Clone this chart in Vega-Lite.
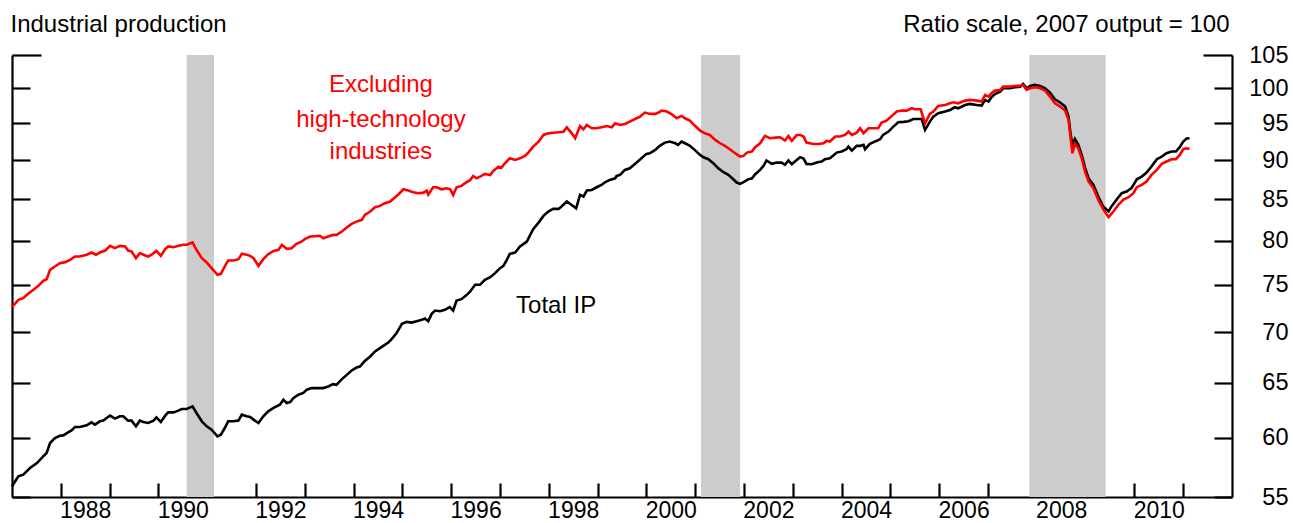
{
  "$schema": "https://vega.github.io/schema/vega-lite/v6.json",
  "width": 1220,
  "height": 442,
  "autosize": {"type": "none"},
  "padding": {"left": 12, "top": 55, "right": 61, "bottom": 26},
  "background": "white",
  "config": {
    "view": {"stroke": null},
    "font": "Liberation Sans",
    "axis": {
      "domainColor": "black", "tickColor": "black", "labelColor": "black", "titleColor": "black",
      "domainWidth": 2.2, "tickWidth": 2.2, "grid": false,
      "labelFont": "Liberation Sans", "titleFont": "Liberation Sans",
      "labelFontSize": 23.5, "titleFontSize": 24, "titleFontWeight": "normal"
    }
  },
  "datasets": {
    "recessions": [
      {"start": 1990.58, "end": 1991.14},
      {"start": 2001.12, "end": 2001.92},
      {"start": 2007.85, "end": 2009.41}
    ],
    "notes": [
      {"series": "Excluding high-technology industries", "label": "Excluding", "year": 1994.56, "value": 99.47},
      {"series": "Excluding high-technology industries", "label": "high-technology", "year": 1994.56, "value": 94.55},
      {"series": "Excluding high-technology industries", "label": "industries", "year": 1994.56, "value": 90.2},
      {"series": "Total IP", "label": "Total IP", "year": 1998.15, "value": 71.98}
    ],
    "ip": [
      {"series": "Total IP", "year": 1987.00, "value": 55.87},
      {"series": "Total IP", "year": 1987.13, "value": 56.69},
      {"series": "Total IP", "year": 1987.23, "value": 56.83},
      {"series": "Total IP", "year": 1987.37, "value": 57.38},
      {"series": "Total IP", "year": 1987.51, "value": 57.80},
      {"series": "Total IP", "year": 1987.64, "value": 58.37},
      {"series": "Total IP", "year": 1987.71, "value": 58.66},
      {"series": "Total IP", "year": 1987.78, "value": 59.52},
      {"series": "Total IP", "year": 1987.88, "value": 59.96},
      {"series": "Total IP", "year": 1987.98, "value": 60.16},
      {"series": "Total IP", "year": 1988.05, "value": 60.19},
      {"series": "Total IP", "year": 1988.15, "value": 60.46},
      {"series": "Total IP", "year": 1988.22, "value": 60.63},
      {"series": "Total IP", "year": 1988.29, "value": 60.93},
      {"series": "Total IP", "year": 1988.39, "value": 60.93},
      {"series": "Total IP", "year": 1988.53, "value": 61.08},
      {"series": "Total IP", "year": 1988.63, "value": 61.35},
      {"series": "Total IP", "year": 1988.70, "value": 61.14},
      {"series": "Total IP", "year": 1988.80, "value": 61.44},
      {"series": "Total IP", "year": 1988.87, "value": 61.50},
      {"series": "Total IP", "year": 1988.94, "value": 61.74},
      {"series": "Total IP", "year": 1989.01, "value": 61.95},
      {"series": "Total IP", "year": 1989.11, "value": 61.68},
      {"series": "Total IP", "year": 1989.21, "value": 61.89},
      {"series": "Total IP", "year": 1989.28, "value": 61.89},
      {"series": "Total IP", "year": 1989.38, "value": 61.50},
      {"series": "Total IP", "year": 1989.45, "value": 61.50},
      {"series": "Total IP", "year": 1989.54, "value": 60.99},
      {"series": "Total IP", "year": 1989.62, "value": 61.50},
      {"series": "Total IP", "year": 1989.69, "value": 61.38},
      {"series": "Total IP", "year": 1989.79, "value": 61.29},
      {"series": "Total IP", "year": 1989.90, "value": 61.50},
      {"series": "Total IP", "year": 1989.96, "value": 61.80},
      {"series": "Total IP", "year": 1990.05, "value": 61.38},
      {"series": "Total IP", "year": 1990.14, "value": 61.95},
      {"series": "Total IP", "year": 1990.20, "value": 62.25},
      {"series": "Total IP", "year": 1990.31, "value": 62.25},
      {"series": "Total IP", "year": 1990.37, "value": 62.34},
      {"series": "Total IP", "year": 1990.48, "value": 62.56},
      {"series": "Total IP", "year": 1990.58, "value": 62.56},
      {"series": "Total IP", "year": 1990.70, "value": 62.80},
      {"series": "Total IP", "year": 1990.78, "value": 62.19},
      {"series": "Total IP", "year": 1990.89, "value": 61.44},
      {"series": "Total IP", "year": 1990.99, "value": 60.99},
      {"series": "Total IP", "year": 1991.09, "value": 60.69},
      {"series": "Total IP", "year": 1991.21, "value": 60.10},
      {"series": "Total IP", "year": 1991.28, "value": 60.25},
      {"series": "Total IP", "year": 1991.36, "value": 60.84},
      {"series": "Total IP", "year": 1991.43, "value": 61.44},
      {"series": "Total IP", "year": 1991.54, "value": 61.44},
      {"series": "Total IP", "year": 1991.64, "value": 61.50},
      {"series": "Total IP", "year": 1991.71, "value": 62.04},
      {"series": "Total IP", "year": 1991.81, "value": 61.89},
      {"series": "Total IP", "year": 1991.88, "value": 61.83},
      {"series": "Total IP", "year": 1991.95, "value": 61.59},
      {"series": "Total IP", "year": 1992.05, "value": 61.29},
      {"series": "Total IP", "year": 1992.15, "value": 61.89},
      {"series": "Total IP", "year": 1992.25, "value": 62.34},
      {"series": "Total IP", "year": 1992.36, "value": 62.65},
      {"series": "Total IP", "year": 1992.42, "value": 62.80},
      {"series": "Total IP", "year": 1992.49, "value": 62.95},
      {"series": "Total IP", "year": 1992.56, "value": 63.41},
      {"series": "Total IP", "year": 1992.63, "value": 63.11},
      {"series": "Total IP", "year": 1992.70, "value": 63.20},
      {"series": "Total IP", "year": 1992.77, "value": 63.57},
      {"series": "Total IP", "year": 1992.87, "value": 63.88},
      {"series": "Total IP", "year": 1992.97, "value": 64.04},
      {"series": "Total IP", "year": 1993.04, "value": 64.35},
      {"series": "Total IP", "year": 1993.14, "value": 64.50},
      {"series": "Total IP", "year": 1993.21, "value": 64.50},
      {"series": "Total IP", "year": 1993.38, "value": 64.50},
      {"series": "Total IP", "year": 1993.48, "value": 64.65},
      {"series": "Total IP", "year": 1993.58, "value": 64.87},
      {"series": "Total IP", "year": 1993.65, "value": 64.81},
      {"series": "Total IP", "year": 1993.76, "value": 65.35},
      {"series": "Total IP", "year": 1993.86, "value": 65.76},
      {"series": "Total IP", "year": 1993.96, "value": 66.18},
      {"series": "Total IP", "year": 1994.06, "value": 66.47},
      {"series": "Total IP", "year": 1994.13, "value": 66.57},
      {"series": "Total IP", "year": 1994.23, "value": 67.12},
      {"series": "Total IP", "year": 1994.34, "value": 67.55},
      {"series": "Total IP", "year": 1994.44, "value": 68.05},
      {"series": "Total IP", "year": 1994.54, "value": 68.38},
      {"series": "Total IP", "year": 1994.64, "value": 68.71},
      {"series": "Total IP", "year": 1994.71, "value": 68.95},
      {"series": "Total IP", "year": 1994.78, "value": 69.29},
      {"series": "Total IP", "year": 1994.88, "value": 69.90},
      {"series": "Total IP", "year": 1994.99, "value": 70.86},
      {"series": "Total IP", "year": 1995.09, "value": 71.06},
      {"series": "Total IP", "year": 1995.19, "value": 70.99},
      {"series": "Total IP", "year": 1995.29, "value": 71.13},
      {"series": "Total IP", "year": 1995.40, "value": 71.27},
      {"series": "Total IP", "year": 1995.46, "value": 71.41},
      {"series": "Total IP", "year": 1995.53, "value": 71.13},
      {"series": "Total IP", "year": 1995.60, "value": 71.90},
      {"series": "Total IP", "year": 1995.67, "value": 72.25},
      {"series": "Total IP", "year": 1995.77, "value": 72.18},
      {"series": "Total IP", "year": 1995.87, "value": 72.32},
      {"series": "Total IP", "year": 1995.97, "value": 72.61},
      {"series": "Total IP", "year": 1996.04, "value": 72.25},
      {"series": "Total IP", "year": 1996.11, "value": 73.32},
      {"series": "Total IP", "year": 1996.21, "value": 73.46},
      {"series": "Total IP", "year": 1996.32, "value": 73.93},
      {"series": "Total IP", "year": 1996.39, "value": 74.29},
      {"series": "Total IP", "year": 1996.49, "value": 75.02},
      {"series": "Total IP", "year": 1996.59, "value": 75.02},
      {"series": "Total IP", "year": 1996.69, "value": 75.57},
      {"series": "Total IP", "year": 1996.80, "value": 75.86},
      {"series": "Total IP", "year": 1996.90, "value": 76.31},
      {"series": "Total IP", "year": 1997.00, "value": 76.87},
      {"series": "Total IP", "year": 1997.07, "value": 77.13},
      {"series": "Total IP", "year": 1997.14, "value": 77.81},
      {"series": "Total IP", "year": 1997.20, "value": 78.49},
      {"series": "Total IP", "year": 1997.31, "value": 78.65},
      {"series": "Total IP", "year": 1997.41, "value": 79.34},
      {"series": "Total IP", "year": 1997.55, "value": 79.92},
      {"series": "Total IP", "year": 1997.62, "value": 80.70},
      {"series": "Total IP", "year": 1997.68, "value": 81.38},
      {"series": "Total IP", "year": 1997.79, "value": 82.17},
      {"series": "Total IP", "year": 1997.89, "value": 82.98},
      {"series": "Total IP", "year": 1997.99, "value": 83.51},
      {"series": "Total IP", "year": 1998.09, "value": 83.83},
      {"series": "Total IP", "year": 1998.20, "value": 83.83},
      {"series": "Total IP", "year": 1998.26, "value": 84.12},
      {"series": "Total IP", "year": 1998.37, "value": 84.74},
      {"series": "Total IP", "year": 1998.47, "value": 84.32},
      {"series": "Total IP", "year": 1998.56, "value": 83.91},
      {"series": "Total IP", "year": 1998.64, "value": 85.56},
      {"series": "Total IP", "year": 1998.71, "value": 85.35},
      {"series": "Total IP", "year": 1998.78, "value": 86.11},
      {"series": "Total IP", "year": 1998.88, "value": 86.19},
      {"series": "Total IP", "year": 1998.98, "value": 86.53},
      {"series": "Total IP", "year": 1999.08, "value": 86.82},
      {"series": "Total IP", "year": 1999.15, "value": 87.16},
      {"series": "Total IP", "year": 1999.25, "value": 87.46},
      {"series": "Total IP", "year": 1999.36, "value": 87.67},
      {"series": "Total IP", "year": 1999.39, "value": 87.97},
      {"series": "Total IP", "year": 1999.46, "value": 88.10},
      {"series": "Total IP", "year": 1999.56, "value": 88.75},
      {"series": "Total IP", "year": 1999.66, "value": 88.96},
      {"series": "Total IP", "year": 1999.80, "value": 89.71},
      {"series": "Total IP", "year": 1999.90, "value": 90.28},
      {"series": "Total IP", "year": 2000.00, "value": 90.86},
      {"series": "Total IP", "year": 2000.07, "value": 90.94},
      {"series": "Total IP", "year": 2000.18, "value": 91.39},
      {"series": "Total IP", "year": 2000.28, "value": 91.97},
      {"series": "Total IP", "year": 2000.38, "value": 92.37},
      {"series": "Total IP", "year": 2000.48, "value": 92.51},
      {"series": "Total IP", "year": 2000.59, "value": 92.28},
      {"series": "Total IP", "year": 2000.65, "value": 92.06},
      {"series": "Total IP", "year": 2000.72, "value": 92.51},
      {"series": "Total IP", "year": 2000.83, "value": 92.15},
      {"series": "Total IP", "year": 2000.89, "value": 91.93},
      {"series": "Total IP", "year": 2000.99, "value": 91.39},
      {"series": "Total IP", "year": 2001.10, "value": 90.72},
      {"series": "Total IP", "year": 2001.17, "value": 90.41},
      {"series": "Total IP", "year": 2001.27, "value": 90.15},
      {"series": "Total IP", "year": 2001.37, "value": 89.63},
      {"series": "Total IP", "year": 2001.47, "value": 88.98},
      {"series": "Total IP", "year": 2001.58, "value": 88.46},
      {"series": "Total IP", "year": 2001.68, "value": 88.11},
      {"series": "Total IP", "year": 2001.78, "value": 87.55},
      {"series": "Total IP", "year": 2001.85, "value": 87.13},
      {"series": "Total IP", "year": 2001.92, "value": 86.96},
      {"series": "Total IP", "year": 2001.99, "value": 87.17},
      {"series": "Total IP", "year": 2002.09, "value": 87.55},
      {"series": "Total IP", "year": 2002.16, "value": 87.64},
      {"series": "Total IP", "year": 2002.23, "value": 88.20},
      {"series": "Total IP", "year": 2002.33, "value": 88.76},
      {"series": "Total IP", "year": 2002.40, "value": 89.28},
      {"series": "Total IP", "year": 2002.46, "value": 89.98},
      {"series": "Total IP", "year": 2002.57, "value": 89.54},
      {"series": "Total IP", "year": 2002.67, "value": 89.71},
      {"series": "Total IP", "year": 2002.77, "value": 89.71},
      {"series": "Total IP", "year": 2002.84, "value": 89.41},
      {"series": "Total IP", "year": 2002.91, "value": 89.98},
      {"series": "Total IP", "year": 2002.98, "value": 89.50},
      {"series": "Total IP", "year": 2003.08, "value": 90.06},
      {"series": "Total IP", "year": 2003.15, "value": 90.41},
      {"series": "Total IP", "year": 2003.22, "value": 90.24},
      {"series": "Total IP", "year": 2003.28, "value": 89.54},
      {"series": "Total IP", "year": 2003.39, "value": 89.50},
      {"series": "Total IP", "year": 2003.49, "value": 89.71},
      {"series": "Total IP", "year": 2003.59, "value": 89.85},
      {"series": "Total IP", "year": 2003.66, "value": 90.15},
      {"series": "Total IP", "year": 2003.76, "value": 90.28},
      {"series": "Total IP", "year": 2003.83, "value": 90.64},
      {"series": "Total IP", "year": 2003.90, "value": 91.03},
      {"series": "Total IP", "year": 2004.00, "value": 91.17},
      {"series": "Total IP", "year": 2004.10, "value": 91.48},
      {"series": "Total IP", "year": 2004.14, "value": 91.84},
      {"series": "Total IP", "year": 2004.21, "value": 91.30},
      {"series": "Total IP", "year": 2004.31, "value": 91.93},
      {"series": "Total IP", "year": 2004.38, "value": 91.93},
      {"series": "Total IP", "year": 2004.45, "value": 92.06},
      {"series": "Total IP", "year": 2004.48, "value": 91.48},
      {"series": "Total IP", "year": 2004.58, "value": 92.19},
      {"series": "Total IP", "year": 2004.68, "value": 92.51},
      {"series": "Total IP", "year": 2004.79, "value": 92.83},
      {"series": "Total IP", "year": 2004.85, "value": 93.42},
      {"series": "Total IP", "year": 2004.96, "value": 93.87},
      {"series": "Total IP", "year": 2005.06, "value": 94.56},
      {"series": "Total IP", "year": 2005.16, "value": 95.16},
      {"series": "Total IP", "year": 2005.27, "value": 95.21},
      {"series": "Total IP", "year": 2005.37, "value": 95.30},
      {"series": "Total IP", "year": 2005.47, "value": 95.62},
      {"series": "Total IP", "year": 2005.57, "value": 95.62},
      {"series": "Total IP", "year": 2005.64, "value": 95.62},
      {"series": "Total IP", "year": 2005.71, "value": 94.10},
      {"series": "Total IP", "year": 2005.81, "value": 95.25},
      {"series": "Total IP", "year": 2005.88, "value": 95.95},
      {"series": "Total IP", "year": 2005.98, "value": 96.42},
      {"series": "Total IP", "year": 2006.12, "value": 96.66},
      {"series": "Total IP", "year": 2006.22, "value": 96.89},
      {"series": "Total IP", "year": 2006.32, "value": 97.27},
      {"series": "Total IP", "year": 2006.39, "value": 97.13},
      {"series": "Total IP", "year": 2006.53, "value": 97.60},
      {"series": "Total IP", "year": 2006.63, "value": 97.75},
      {"series": "Total IP", "year": 2006.77, "value": 97.60},
      {"series": "Total IP", "year": 2006.87, "value": 97.51},
      {"series": "Total IP", "year": 2006.94, "value": 98.32},
      {"series": "Total IP", "year": 2007.01, "value": 98.08},
      {"series": "Total IP", "year": 2007.07, "value": 98.70},
      {"series": "Total IP", "year": 2007.14, "value": 99.18},
      {"series": "Total IP", "year": 2007.25, "value": 99.52},
      {"series": "Total IP", "year": 2007.31, "value": 100.01},
      {"series": "Total IP", "year": 2007.45, "value": 100.01},
      {"series": "Total IP", "year": 2007.55, "value": 100.16},
      {"series": "Total IP", "year": 2007.66, "value": 100.25},
      {"series": "Total IP", "year": 2007.72, "value": 100.65},
      {"series": "Total IP", "year": 2007.79, "value": 100.01},
      {"series": "Total IP", "year": 2007.86, "value": 100.35},
      {"series": "Total IP", "year": 2007.96, "value": 100.50},
      {"series": "Total IP", "year": 2008.07, "value": 100.35},
      {"series": "Total IP", "year": 2008.17, "value": 100.01},
      {"series": "Total IP", "year": 2008.27, "value": 99.38},
      {"series": "Total IP", "year": 2008.37, "value": 98.41},
      {"series": "Total IP", "year": 2008.48, "value": 97.94},
      {"series": "Total IP", "year": 2008.58, "value": 97.37},
      {"series": "Total IP", "year": 2008.65, "value": 95.95},
      {"series": "Total IP", "year": 2008.69, "value": 93.64},
      {"series": "Total IP", "year": 2008.73, "value": 92.06},
      {"series": "Total IP", "year": 2008.78, "value": 92.87},
      {"series": "Total IP", "year": 2008.85, "value": 92.06},
      {"series": "Total IP", "year": 2008.92, "value": 90.72},
      {"series": "Total IP", "year": 2008.99, "value": 88.98},
      {"series": "Total IP", "year": 2009.06, "value": 87.68},
      {"series": "Total IP", "year": 2009.16, "value": 86.83},
      {"series": "Total IP", "year": 2009.26, "value": 85.36},
      {"series": "Total IP", "year": 2009.36, "value": 84.13},
      {"series": "Total IP", "year": 2009.47, "value": 83.51},
      {"series": "Total IP", "year": 2009.53, "value": 84.13},
      {"series": "Total IP", "year": 2009.64, "value": 85.03},
      {"series": "Total IP", "year": 2009.74, "value": 85.78},
      {"series": "Total IP", "year": 2009.84, "value": 85.99},
      {"series": "Total IP", "year": 2009.94, "value": 86.41},
      {"series": "Total IP", "year": 2010.05, "value": 87.55},
      {"series": "Total IP", "year": 2010.15, "value": 87.89},
      {"series": "Total IP", "year": 2010.25, "value": 88.41},
      {"series": "Total IP", "year": 2010.35, "value": 89.19},
      {"series": "Total IP", "year": 2010.46, "value": 90.15},
      {"series": "Total IP", "year": 2010.56, "value": 90.50},
      {"series": "Total IP", "year": 2010.66, "value": 90.94},
      {"series": "Total IP", "year": 2010.76, "value": 91.17},
      {"series": "Total IP", "year": 2010.85, "value": 91.17},
      {"series": "Total IP", "year": 2010.93, "value": 91.75},
      {"series": "Total IP", "year": 2011.00, "value": 92.51},
      {"series": "Total IP", "year": 2011.07, "value": 92.92},
      {"series": "Total IP", "year": 2011.13, "value": 92.96},
      {"series": "Excluding high-technology industries", "year": 1987.00, "value": 72.61},
      {"series": "Excluding high-technology industries", "year": 1987.13, "value": 73.39},
      {"series": "Excluding high-technology industries", "year": 1987.23, "value": 73.57},
      {"series": "Excluding high-technology industries", "year": 1987.33, "value": 74.04},
      {"series": "Excluding high-technology industries", "year": 1987.44, "value": 74.47},
      {"series": "Excluding high-technology industries", "year": 1987.54, "value": 74.91},
      {"series": "Excluding high-technology industries", "year": 1987.64, "value": 75.46},
      {"series": "Excluding high-technology industries", "year": 1987.71, "value": 75.64},
      {"series": "Excluding high-technology industries", "year": 1987.78, "value": 76.68},
      {"series": "Excluding high-technology industries", "year": 1987.88, "value": 77.06},
      {"series": "Excluding high-technology industries", "year": 1987.98, "value": 77.44},
      {"series": "Excluding high-technology industries", "year": 1988.09, "value": 77.55},
      {"series": "Excluding high-technology industries", "year": 1988.19, "value": 77.81},
      {"series": "Excluding high-technology industries", "year": 1988.29, "value": 78.19},
      {"series": "Excluding high-technology industries", "year": 1988.39, "value": 78.19},
      {"series": "Excluding high-technology industries", "year": 1988.53, "value": 78.39},
      {"series": "Excluding high-technology industries", "year": 1988.63, "value": 78.65},
      {"series": "Excluding high-technology industries", "year": 1988.72, "value": 78.39},
      {"series": "Excluding high-technology industries", "year": 1988.80, "value": 78.65},
      {"series": "Excluding high-technology industries", "year": 1988.91, "value": 78.88},
      {"series": "Excluding high-technology industries", "year": 1989.01, "value": 79.42},
      {"series": "Excluding high-technology industries", "year": 1989.11, "value": 79.15},
      {"series": "Excluding high-technology industries", "year": 1989.21, "value": 79.42},
      {"series": "Excluding high-technology industries", "year": 1989.32, "value": 79.35},
      {"series": "Excluding high-technology industries", "year": 1989.38, "value": 78.88},
      {"series": "Excluding high-technology industries", "year": 1989.45, "value": 78.77},
      {"series": "Excluding high-technology industries", "year": 1989.54, "value": 78.00},
      {"series": "Excluding high-technology industries", "year": 1989.62, "value": 78.58},
      {"series": "Excluding high-technology industries", "year": 1989.73, "value": 78.31},
      {"series": "Excluding high-technology industries", "year": 1989.79, "value": 78.19},
      {"series": "Excluding high-technology industries", "year": 1989.86, "value": 78.39},
      {"series": "Excluding high-technology industries", "year": 1989.96, "value": 78.84},
      {"series": "Excluding high-technology industries", "year": 1990.05, "value": 78.27},
      {"series": "Excluding high-technology industries", "year": 1990.14, "value": 79.04},
      {"series": "Excluding high-technology industries", "year": 1990.20, "value": 79.35},
      {"series": "Excluding high-technology industries", "year": 1990.31, "value": 79.27},
      {"series": "Excluding high-technology industries", "year": 1990.41, "value": 79.42},
      {"series": "Excluding high-technology industries", "year": 1990.51, "value": 79.54},
      {"series": "Excluding high-technology industries", "year": 1990.58, "value": 79.54},
      {"series": "Excluding high-technology industries", "year": 1990.70, "value": 79.81},
      {"series": "Excluding high-technology industries", "year": 1990.78, "value": 78.96},
      {"series": "Excluding high-technology industries", "year": 1990.89, "value": 78.00},
      {"series": "Excluding high-technology industries", "year": 1990.99, "value": 77.51},
      {"series": "Excluding high-technology industries", "year": 1991.09, "value": 76.87},
      {"series": "Excluding high-technology industries", "year": 1991.21, "value": 76.13},
      {"series": "Excluding high-technology industries", "year": 1991.28, "value": 76.24},
      {"series": "Excluding high-technology industries", "year": 1991.36, "value": 77.06},
      {"series": "Excluding high-technology industries", "year": 1991.43, "value": 77.74},
      {"series": "Excluding high-technology industries", "year": 1991.54, "value": 77.74},
      {"series": "Excluding high-technology industries", "year": 1991.64, "value": 77.89},
      {"series": "Excluding high-technology industries", "year": 1991.71, "value": 78.50},
      {"series": "Excluding high-technology industries", "year": 1991.81, "value": 78.39},
      {"series": "Excluding high-technology industries", "year": 1991.88, "value": 78.27},
      {"series": "Excluding high-technology industries", "year": 1991.95, "value": 78.00},
      {"series": "Excluding high-technology industries", "year": 1992.05, "value": 77.13},
      {"series": "Excluding high-technology industries", "year": 1992.15, "value": 77.89},
      {"series": "Excluding high-technology industries", "year": 1992.25, "value": 78.46},
      {"series": "Excluding high-technology industries", "year": 1992.36, "value": 78.84},
      {"series": "Excluding high-technology industries", "year": 1992.46, "value": 78.96},
      {"series": "Excluding high-technology industries", "year": 1992.53, "value": 79.54},
      {"series": "Excluding high-technology industries", "year": 1992.63, "value": 79.08},
      {"series": "Excluding high-technology industries", "year": 1992.73, "value": 79.15},
      {"series": "Excluding high-technology industries", "year": 1992.83, "value": 79.65},
      {"series": "Excluding high-technology industries", "year": 1992.94, "value": 79.93},
      {"series": "Excluding high-technology industries", "year": 1993.00, "value": 80.20},
      {"series": "Excluding high-technology industries", "year": 1993.11, "value": 80.51},
      {"series": "Excluding high-technology industries", "year": 1993.21, "value": 80.55},
      {"series": "Excluding high-technology industries", "year": 1993.31, "value": 80.60},
      {"series": "Excluding high-technology industries", "year": 1993.38, "value": 80.31},
      {"series": "Excluding high-technology industries", "year": 1993.48, "value": 80.51},
      {"series": "Excluding high-technology industries", "year": 1993.58, "value": 80.70},
      {"series": "Excluding high-technology industries", "year": 1993.65, "value": 80.70},
      {"series": "Excluding high-technology industries", "year": 1993.76, "value": 81.10},
      {"series": "Excluding high-technology industries", "year": 1993.86, "value": 81.58},
      {"series": "Excluding high-technology industries", "year": 1993.96, "value": 82.01},
      {"series": "Excluding high-technology industries", "year": 1994.06, "value": 82.29},
      {"series": "Excluding high-technology industries", "year": 1994.17, "value": 82.50},
      {"series": "Excluding high-technology industries", "year": 1994.23, "value": 83.10},
      {"series": "Excluding high-technology industries", "year": 1994.34, "value": 83.51},
      {"series": "Excluding high-technology industries", "year": 1994.44, "value": 84.04},
      {"series": "Excluding high-technology industries", "year": 1994.54, "value": 84.20},
      {"series": "Excluding high-technology industries", "year": 1994.64, "value": 84.53},
      {"series": "Excluding high-technology industries", "year": 1994.75, "value": 84.74},
      {"series": "Excluding high-technology industries", "year": 1994.85, "value": 85.27},
      {"series": "Excluding high-technology industries", "year": 1994.92, "value": 85.65},
      {"series": "Excluding high-technology industries", "year": 1995.02, "value": 86.27},
      {"series": "Excluding high-technology industries", "year": 1995.12, "value": 86.11},
      {"series": "Excluding high-technology industries", "year": 1995.22, "value": 85.90},
      {"series": "Excluding high-technology industries", "year": 1995.33, "value": 85.77},
      {"series": "Excluding high-technology industries", "year": 1995.43, "value": 85.85},
      {"series": "Excluding high-technology industries", "year": 1995.50, "value": 86.11},
      {"series": "Excluding high-technology industries", "year": 1995.53, "value": 85.60},
      {"series": "Excluding high-technology industries", "year": 1995.63, "value": 86.53},
      {"series": "Excluding high-technology industries", "year": 1995.70, "value": 86.53},
      {"series": "Excluding high-technology industries", "year": 1995.80, "value": 86.27},
      {"series": "Excluding high-technology industries", "year": 1995.91, "value": 86.40},
      {"series": "Excluding high-technology industries", "year": 1995.98, "value": 86.27},
      {"series": "Excluding high-technology industries", "year": 1996.04, "value": 85.56},
      {"series": "Excluding high-technology industries", "year": 1996.11, "value": 86.53},
      {"series": "Excluding high-technology industries", "year": 1996.21, "value": 86.70},
      {"series": "Excluding high-technology industries", "year": 1996.28, "value": 87.03},
      {"series": "Excluding high-technology industries", "year": 1996.39, "value": 87.46},
      {"series": "Excluding high-technology industries", "year": 1996.45, "value": 87.97},
      {"series": "Excluding high-technology industries", "year": 1996.52, "value": 87.67},
      {"series": "Excluding high-technology industries", "year": 1996.62, "value": 87.97},
      {"series": "Excluding high-technology industries", "year": 1996.69, "value": 88.23},
      {"series": "Excluding high-technology industries", "year": 1996.80, "value": 88.10},
      {"series": "Excluding high-technology industries", "year": 1996.86, "value": 88.62},
      {"series": "Excluding high-technology industries", "year": 1996.97, "value": 89.18},
      {"series": "Excluding high-technology industries", "year": 1997.03, "value": 89.05},
      {"series": "Excluding high-technology industries", "year": 1997.10, "value": 89.62},
      {"series": "Excluding high-technology industries", "year": 1997.20, "value": 90.27},
      {"series": "Excluding high-technology industries", "year": 1997.31, "value": 90.05},
      {"series": "Excluding high-technology industries", "year": 1997.41, "value": 90.27},
      {"series": "Excluding high-technology industries", "year": 1997.51, "value": 90.58},
      {"series": "Excluding high-technology industries", "year": 1997.58, "value": 91.02},
      {"series": "Excluding high-technology industries", "year": 1997.68, "value": 91.83},
      {"series": "Excluding high-technology industries", "year": 1997.79, "value": 92.50},
      {"series": "Excluding high-technology industries", "year": 1997.89, "value": 93.41},
      {"series": "Excluding high-technology industries", "year": 1997.99, "value": 93.63},
      {"series": "Excluding high-technology industries", "year": 1998.09, "value": 93.72},
      {"series": "Excluding high-technology industries", "year": 1998.20, "value": 93.77},
      {"series": "Excluding high-technology industries", "year": 1998.30, "value": 93.86},
      {"series": "Excluding high-technology industries", "year": 1998.37, "value": 94.46},
      {"series": "Excluding high-technology industries", "year": 1998.47, "value": 93.63},
      {"series": "Excluding high-technology industries", "year": 1998.54, "value": 92.95},
      {"series": "Excluding high-technology industries", "year": 1998.64, "value": 94.64},
      {"series": "Excluding high-technology industries", "year": 1998.71, "value": 94.18},
      {"series": "Excluding high-technology industries", "year": 1998.78, "value": 94.78},
      {"series": "Excluding high-technology industries", "year": 1998.88, "value": 94.32},
      {"series": "Excluding high-technology industries", "year": 1998.98, "value": 94.32},
      {"series": "Excluding high-technology industries", "year": 1999.08, "value": 94.46},
      {"series": "Excluding high-technology industries", "year": 1999.19, "value": 94.64},
      {"series": "Excluding high-technology industries", "year": 1999.29, "value": 94.46},
      {"series": "Excluding high-technology industries", "year": 1999.36, "value": 95.01},
      {"series": "Excluding high-technology industries", "year": 1999.46, "value": 94.78},
      {"series": "Excluding high-technology industries", "year": 1999.56, "value": 94.92},
      {"series": "Excluding high-technology industries", "year": 1999.66, "value": 95.24},
      {"series": "Excluding high-technology industries", "year": 1999.80, "value": 95.72},
      {"series": "Excluding high-technology industries", "year": 1999.87, "value": 95.95},
      {"series": "Excluding high-technology industries", "year": 1999.97, "value": 96.52},
      {"series": "Excluding high-technology industries", "year": 2000.07, "value": 96.33},
      {"series": "Excluding high-technology industries", "year": 2000.18, "value": 96.33},
      {"series": "Excluding high-technology industries", "year": 2000.25, "value": 96.52},
      {"series": "Excluding high-technology industries", "year": 2000.31, "value": 96.80},
      {"series": "Excluding high-technology industries", "year": 2000.42, "value": 96.66},
      {"series": "Excluding high-technology industries", "year": 2000.52, "value": 96.28},
      {"series": "Excluding high-technology industries", "year": 2000.62, "value": 95.72},
      {"series": "Excluding high-technology industries", "year": 2000.72, "value": 96.05},
      {"series": "Excluding high-technology industries", "year": 2000.79, "value": 95.72},
      {"series": "Excluding high-technology industries", "year": 2000.89, "value": 95.39},
      {"series": "Excluding high-technology industries", "year": 2000.99, "value": 94.70},
      {"series": "Excluding high-technology industries", "year": 2001.10, "value": 94.01},
      {"series": "Excluding high-technology industries", "year": 2001.20, "value": 93.64},
      {"series": "Excluding high-technology industries", "year": 2001.30, "value": 93.41},
      {"series": "Excluding high-technology industries", "year": 2001.41, "value": 92.74},
      {"series": "Excluding high-technology industries", "year": 2001.51, "value": 92.28},
      {"series": "Excluding high-technology industries", "year": 2001.61, "value": 91.92},
      {"series": "Excluding high-technology industries", "year": 2001.71, "value": 91.48},
      {"series": "Excluding high-technology industries", "year": 2001.82, "value": 90.94},
      {"series": "Excluding high-technology industries", "year": 2001.92, "value": 90.50},
      {"series": "Excluding high-technology industries", "year": 2001.99, "value": 90.59},
      {"series": "Excluding high-technology industries", "year": 2002.06, "value": 91.03},
      {"series": "Excluding high-technology industries", "year": 2002.16, "value": 91.17},
      {"series": "Excluding high-technology industries", "year": 2002.23, "value": 91.75},
      {"series": "Excluding high-technology industries", "year": 2002.33, "value": 92.28},
      {"series": "Excluding high-technology industries", "year": 2002.43, "value": 93.28},
      {"series": "Excluding high-technology industries", "year": 2002.53, "value": 92.96},
      {"series": "Excluding high-technology industries", "year": 2002.64, "value": 93.05},
      {"series": "Excluding high-technology industries", "year": 2002.74, "value": 93.10},
      {"series": "Excluding high-technology industries", "year": 2002.84, "value": 92.65},
      {"series": "Excluding high-technology industries", "year": 2002.91, "value": 93.28},
      {"series": "Excluding high-technology industries", "year": 2002.98, "value": 92.60},
      {"series": "Excluding high-technology industries", "year": 2003.08, "value": 93.41},
      {"series": "Excluding high-technology industries", "year": 2003.15, "value": 93.41},
      {"series": "Excluding high-technology industries", "year": 2003.22, "value": 93.19},
      {"series": "Excluding high-technology industries", "year": 2003.28, "value": 92.37},
      {"series": "Excluding high-technology industries", "year": 2003.42, "value": 92.19},
      {"series": "Excluding high-technology industries", "year": 2003.52, "value": 92.19},
      {"series": "Excluding high-technology industries", "year": 2003.63, "value": 92.28},
      {"series": "Excluding high-technology industries", "year": 2003.69, "value": 92.60},
      {"series": "Excluding high-technology industries", "year": 2003.76, "value": 92.51},
      {"series": "Excluding high-technology industries", "year": 2003.87, "value": 93.19},
      {"series": "Excluding high-technology industries", "year": 2003.97, "value": 93.19},
      {"series": "Excluding high-technology industries", "year": 2004.07, "value": 93.41},
      {"series": "Excluding high-technology industries", "year": 2004.14, "value": 93.87},
      {"series": "Excluding high-technology industries", "year": 2004.21, "value": 93.41},
      {"series": "Excluding high-technology industries", "year": 2004.31, "value": 93.73},
      {"series": "Excluding high-technology industries", "year": 2004.38, "value": 94.33},
      {"series": "Excluding high-technology industries", "year": 2004.45, "value": 93.64},
      {"series": "Excluding high-technology industries", "year": 2004.55, "value": 94.33},
      {"series": "Excluding high-technology industries", "year": 2004.65, "value": 94.33},
      {"series": "Excluding high-technology industries", "year": 2004.75, "value": 94.33},
      {"series": "Excluding high-technology industries", "year": 2004.82, "value": 95.12},
      {"series": "Excluding high-technology industries", "year": 2004.92, "value": 95.39},
      {"series": "Excluding high-technology industries", "year": 2005.03, "value": 96.05},
      {"series": "Excluding high-technology industries", "year": 2005.13, "value": 96.66},
      {"series": "Excluding high-technology industries", "year": 2005.23, "value": 96.80},
      {"series": "Excluding high-technology industries", "year": 2005.33, "value": 96.80},
      {"series": "Excluding high-technology industries", "year": 2005.44, "value": 97.13},
      {"series": "Excluding high-technology industries", "year": 2005.50, "value": 96.99},
      {"series": "Excluding high-technology industries", "year": 2005.62, "value": 96.99},
      {"series": "Excluding high-technology industries", "year": 2005.71, "value": 95.02},
      {"series": "Excluding high-technology industries", "year": 2005.81, "value": 96.33},
      {"series": "Excluding high-technology industries", "year": 2005.88, "value": 96.66},
      {"series": "Excluding high-technology industries", "year": 2005.98, "value": 97.46},
      {"series": "Excluding high-technology industries", "year": 2006.12, "value": 97.60},
      {"series": "Excluding high-technology industries", "year": 2006.22, "value": 97.84},
      {"series": "Excluding high-technology industries", "year": 2006.29, "value": 97.98},
      {"series": "Excluding high-technology industries", "year": 2006.39, "value": 97.84},
      {"series": "Excluding high-technology industries", "year": 2006.53, "value": 98.22},
      {"series": "Excluding high-technology industries", "year": 2006.63, "value": 98.32},
      {"series": "Excluding high-technology industries", "year": 2006.77, "value": 98.22},
      {"series": "Excluding high-technology industries", "year": 2006.87, "value": 98.08},
      {"series": "Excluding high-technology industries", "year": 2006.94, "value": 99.04},
      {"series": "Excluding high-technology industries", "year": 2007.01, "value": 98.80},
      {"series": "Excluding high-technology industries", "year": 2007.07, "value": 99.28},
      {"series": "Excluding high-technology industries", "year": 2007.14, "value": 99.67},
      {"series": "Excluding high-technology industries", "year": 2007.25, "value": 99.77},
      {"series": "Excluding high-technology industries", "year": 2007.31, "value": 100.25},
      {"series": "Excluding high-technology industries", "year": 2007.45, "value": 100.25},
      {"series": "Excluding high-technology industries", "year": 2007.55, "value": 100.35},
      {"series": "Excluding high-technology industries", "year": 2007.66, "value": 100.40},
      {"series": "Excluding high-technology industries", "year": 2007.72, "value": 100.50},
      {"series": "Excluding high-technology industries", "year": 2007.79, "value": 99.77},
      {"series": "Excluding high-technology industries", "year": 2007.86, "value": 100.01},
      {"series": "Excluding high-technology industries", "year": 2007.96, "value": 100.16},
      {"series": "Excluding high-technology industries", "year": 2008.07, "value": 100.01},
      {"series": "Excluding high-technology industries", "year": 2008.17, "value": 99.67},
      {"series": "Excluding high-technology industries", "year": 2008.27, "value": 98.80},
      {"series": "Excluding high-technology industries", "year": 2008.37, "value": 97.84},
      {"series": "Excluding high-technology industries", "year": 2008.48, "value": 97.37},
      {"series": "Excluding high-technology industries", "year": 2008.58, "value": 96.80},
      {"series": "Excluding high-technology industries", "year": 2008.65, "value": 95.49},
      {"series": "Excluding high-technology industries", "year": 2008.69, "value": 93.19},
      {"series": "Excluding high-technology industries", "year": 2008.73, "value": 90.94},
      {"series": "Excluding high-technology industries", "year": 2008.78, "value": 92.19},
      {"series": "Excluding high-technology industries", "year": 2008.85, "value": 91.61},
      {"series": "Excluding high-technology industries", "year": 2008.92, "value": 90.28},
      {"series": "Excluding high-technology industries", "year": 2008.99, "value": 88.54},
      {"series": "Excluding high-technology industries", "year": 2009.06, "value": 87.26},
      {"series": "Excluding high-technology industries", "year": 2009.16, "value": 86.41},
      {"series": "Excluding high-technology industries", "year": 2009.26, "value": 84.95},
      {"series": "Excluding high-technology industries", "year": 2009.36, "value": 83.80},
      {"series": "Excluding high-technology industries", "year": 2009.47, "value": 82.82},
      {"series": "Excluding high-technology industries", "year": 2009.57, "value": 83.51},
      {"series": "Excluding high-technology industries", "year": 2009.67, "value": 84.33},
      {"series": "Excluding high-technology industries", "year": 2009.77, "value": 84.95},
      {"series": "Excluding high-technology industries", "year": 2009.88, "value": 85.28},
      {"series": "Excluding high-technology industries", "year": 2009.98, "value": 85.78},
      {"series": "Excluding high-technology industries", "year": 2010.05, "value": 86.54},
      {"series": "Excluding high-technology industries", "year": 2010.15, "value": 86.83},
      {"series": "Excluding high-technology industries", "year": 2010.25, "value": 87.26},
      {"series": "Excluding high-technology industries", "year": 2010.35, "value": 88.11},
      {"series": "Excluding high-technology industries", "year": 2010.46, "value": 88.76},
      {"series": "Excluding high-technology industries", "year": 2010.56, "value": 89.54},
      {"series": "Excluding high-technology industries", "year": 2010.66, "value": 89.85},
      {"series": "Excluding high-technology industries", "year": 2010.76, "value": 90.15},
      {"series": "Excluding high-technology industries", "year": 2010.85, "value": 90.15},
      {"series": "Excluding high-technology industries", "year": 2010.93, "value": 90.72},
      {"series": "Excluding high-technology industries", "year": 2011.00, "value": 91.48},
      {"series": "Excluding high-technology industries", "year": 2011.07, "value": 91.61},
      {"series": "Excluding high-technology industries", "year": 2011.13, "value": 91.52}
    ]
  },
  "layer": [
    {
      "data": {"name": "recessions"},
      "mark": {"type": "rect", "color": "#cccccc"},
      "encoding": {
        "x": {
          "field": "start", "type": "quantitative",
          "scale": {"domain": [1987, 2012], "nice": false, "zero": false},
          "axis": {
            "orient": "bottom", "title": null,
            "values": [1988, 1989, 1990, 1991, 1992, 1993, 1994, 1995, 1996, 1997, 1998, 1999, 2000, 2001, 2002, 2003, 2004, 2005, 2006, 2007, 2008, 2009, 2010, 2011],
            "labelExpr": "datum.value % 2 == 0 ? '' + datum.value : ''",
            "tickSize": -14, "labelOffset": 24.4, "labelPadding": 16, "labelBaseline": "top", "labelFontSize": 23
          }
        },
        "x2": {"field": "end"}
      }
    },
    {
      "data": {"name": "ip"},
      "mark": {"type": "line", "strokeWidth": 2.6},
      "encoding": {
        "x": {
          "field": "year", "type": "quantitative",
          "scale": {"domain": [1987, 2012], "nice": false, "zero": false},
          "axis": {
            "orient": "bottom", "title": null,
            "values": [1988, 1989, 1990, 1991, 1992, 1993, 1994, 1995, 1996, 1997, 1998, 1999, 2000, 2001, 2002, 2003, 2004, 2005, 2006, 2007, 2008, 2009, 2010, 2011],
            "labelExpr": "datum.value % 2 == 0 ? '' + datum.value : ''",
            "tickSize": -14, "labelOffset": 24.4, "labelPadding": 16, "labelBaseline": "top", "labelFontSize": 23
          }
        },
        "y": {
          "field": "value", "type": "quantitative",
          "scale": {"type": "log", "domain": [55, 105], "nice": false},
          "axis": {
            "orient": "left",
            "values": [55, 60, 65, 70, 75, 80, 85, 90, 95, 100, 105],
            "labels": false,
            "tickSize": {"condition": {"test": "datum.value == 105", "value": -29}, "value": -18},
            "title": "Industrial production",
            "titleAngle": 0, "titleAlign": "left", "titleBaseline": "alphabetic",
            "titleX": -2, "titleY": -24
          }
        },
        "color": {
          "field": "series", "type": "nominal",
          "scale": {"domain": ["Total IP", "Excluding high-technology industries"], "range": ["#000000", "#ff0000"]},
          "legend": null
        }
      }
    },
    {
      "data": {"name": "notes"},
      "mark": {"type": "text", "font": "Liberation Sans", "fontSize": 24, "align": "center", "baseline": "alphabetic"},
      "encoding": {
        "x": {
          "field": "year", "type": "quantitative",
          "scale": {"domain": [1987, 2012], "nice": false, "zero": false},
          "axis": {
            "orient": "bottom", "title": null,
            "values": [1988, 1989, 1990, 1991, 1992, 1993, 1994, 1995, 1996, 1997, 1998, 1999, 2000, 2001, 2002, 2003, 2004, 2005, 2006, 2007, 2008, 2009, 2010, 2011],
            "labelExpr": "datum.value % 2 == 0 ? '' + datum.value : ''",
            "tickSize": -14, "labelOffset": 24.4, "labelPadding": 16, "labelBaseline": "top", "labelFontSize": 23
          }
        },
        "y": {
          "field": "value", "type": "quantitative",
          "scale": {"type": "log", "domain": [55, 105], "nice": false},
          "axis": {
            "orient": "right",
            "values": [55, 60, 65, 70, 75, 80, 85, 90, 95, 100, 105],
            "format": "d",
            "tickSize": {"condition": {"test": "datum.value == 105", "value": -29}, "value": -18},
            "labelAlign": "right",
            "labelBaseline": "middle",
            "labelPadding": {"condition": {"test": "datum.value == 105", "value": 85}, "value": 74},
            "title": "Ratio scale, 2007 output = 100",
            "titleAngle": 0, "titleAlign": "right", "titleBaseline": "alphabetic",
            "titleX": -3, "titleY": -24
          }
        },
        "text": {"field": "label"},
        "color": {
          "field": "series", "type": "nominal",
          "scale": {"domain": ["Total IP", "Excluding high-technology industries"], "range": ["#000000", "#ff0000"]},
          "legend": null
        }
      }
    }
  ],
  "resolve": {"axis": {"y": "independent"}}
}
